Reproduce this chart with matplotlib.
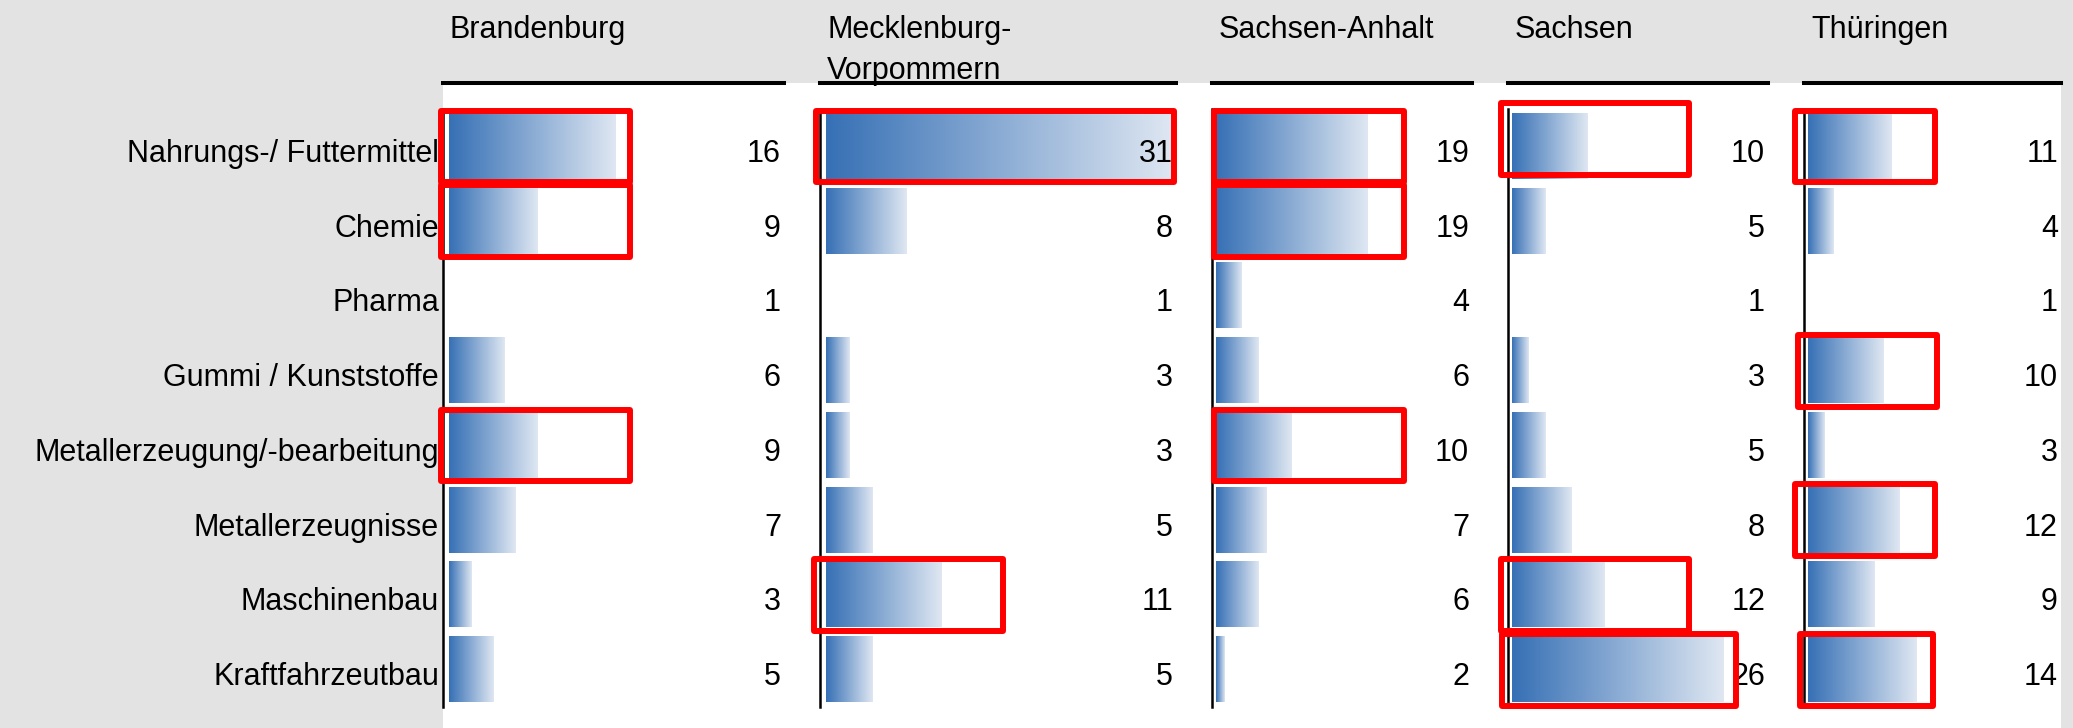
import numpy as np
import matplotlib.pyplot as plt
from matplotlib.colors import LinearSegmentedColormap
from matplotlib.patches import Rectangle

plt.rcParams['font.family'] = ['Liberation Sans', 'DejaVu Sans']

W, H = 2073, 728  # output size in px

## data
states = ['Brandenburg', 'Mecklenburg-\nVorpommern', 'Sachsen-Anhalt', 'Sachsen', 'Thüringen']
branches = ['Nahrungs-/ Futtermittel', 'Chemie', 'Pharma', 'Gummi / Kunststoffe',
            'Metallerzeugung/-bearbeitung', 'Metallerzeugnisse', 'Maschinenbau',
            'Kraftfahrzeutbau']
brandenburg = [16, 9, 1, 6, 9, 7, 3, 5]
meck_vorp = [31, 8, 1, 3, 3, 5, 11, 5]
sachsen_anhalt = [19, 19, 4, 6, 10, 7, 6, 2]
sachsen = [10, 5, 1, 3, 5, 8, 12, 26]
thueringen = [11, 4, 1, 10, 3, 12, 9, 14]
values = [brandenburg, meck_vorp, sachsen_anhalt, sachsen, thueringen]

# red frames drawn over the chart: panel, row, x from / to (data units), shift in rows
frame_panel = [0, 0, 0, 1, 1, 2, 2, 2, 3, 3, 3, 4, 4, 4, 4]
frame_row = [0, 1, 4, 0, 6, 0, 1, 4, 0, 6, 7, 0, 3, 5, 7]
frame_x0 = [0.3, 0.3, 0.3, 0.15, 0.0, 0.75, 0.75, 0.75, -0.33, -0.33, -0.2, -0.58, -0.2, -0.58, 0.05]
frame_x1 = [17.4, 17.4, 17.4, 31.1, 16.3, 23.2, 23.2, 23.2, 22.0, 22.0, 27.5, 16.2, 16.45, 16.2, 16.0]
frame_dy = [0, 0, 0, 0, 0, 0, 0, 0, -0.1, 0, 0, 0, 0, 0, 0]

## layout (pixels from top-left)
panel_left = [443, 820, 1212, 1508, 1804]
panel_right = [784, 1176, 1472, 1768, 2061]
ax_top, ax_bottom = 83, 707
x_lo, x_hi = 0.5, 31.3
y_lo, y_hi = 7.5, -0.85

grey = '#e3e3e3'
cmap = LinearSegmentedColormap.from_list('bar', ['#3670b5', '#dfe7f2'])
grad = np.linspace(0, 1, 256).reshape(1, -1)

fig = plt.figure(figsize=(W / 100, H / 100), dpi=100, facecolor=grey)

# white plotting area behind the panels
fig.patches.append(Rectangle((443 / W, 0), (2061 - 443) / W, 1 - ax_top / H,
                             transform=fig.transFigure, facecolor='white',
                             edgecolor='none', zorder=-1))

axes = []
for i, name in enumerate(states):
    l, r = panel_left[i], panel_right[i]
    ax = fig.add_axes([l / W, 1 - ax_bottom / H, (r - l) / W, (ax_bottom - ax_top) / H])
    ax.set_facecolor('none')
    rows = np.arange(len(branches))
    for row, v in zip(rows, values[i]):
        if v > 1:
            ax.imshow(grad, extent=(1, v, row + 0.435, row - 0.435), aspect='auto',
                      cmap=cmap, interpolation='bilinear', zorder=2)
        ax.annotate(str(v), xy=(1, row + 0.207), xycoords=ax.get_yaxis_transform(),
                    xytext=(-3, 0), textcoords='offset pixels', ha='right',
                    va='baseline', fontsize=22, color='black', zorder=3)
    ax.set_xlim(x_lo, x_hi)
    ax.set_ylim(y_lo, y_hi)
    ax.set_xticks([])
    ax.set_yticks([])
    for s in ['right', 'bottom']:
        ax.spines[s].set_visible(False)
    ax.spines['top'].set_linewidth(2.9)
    ax.spines['left'].set_linewidth(1.8)
    ax.spines['left'].set_bounds(-0.5, 7.5)
    fig.text((l + 7) / W, 1 - 15 / H, name, ha='left', va='top', fontsize=22,
             linespacing=1.5, color='black')
    if i == 0:
        for row, lab in zip(rows, branches):
            ax.annotate(lab, xy=(0, row + 0.207), xycoords=ax.get_yaxis_transform(),
                        xytext=(-4, 0), textcoords='offset pixels', ha='right',
                        va='baseline', fontsize=22, color='black')
    axes.append(ax)

for p, row, x0, x1, dy in zip(frame_panel, frame_row, frame_x0, frame_x1, frame_dy):
    axes[p].add_patch(Rectangle((x0, row - 0.48 + dy), x1 - x0, 0.96, fill=False,
                                edgecolor='red', linewidth=4.3, joinstyle='round',
                                clip_on=False, zorder=5))

fig.savefig('out.png', dpi=100, facecolor=grey)
